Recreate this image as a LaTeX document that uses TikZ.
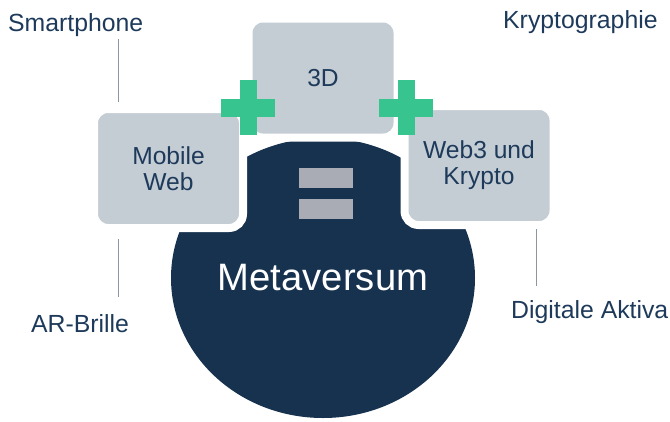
\documentclass[tikz,border=0pt]{standalone}
\usepackage{fontspec}
\setmainfont{Liberation Sans}
\usetikzlibrary{positioning}
\definecolor{navy}{RGB}{22, 50, 79}
\definecolor{navytext}{RGB}{30, 58, 90}
\definecolor{boxgray}{RGB}{196, 204, 212}
\definecolor{plusgreen}{RGB}{56, 196, 143}
\definecolor{eqgray}{RGB}{169, 172, 180}
\definecolor{leadergray}{RGB}{138, 150, 163}

\tikzset{
    tech/.style={fill=boxgray, draw=white, line width=8pt, rounded corners=14pt,
        minimum width=149pt, minimum height=119pt, inner sep=0pt, align=center,
        text=navytext, font=\fontsize{24.6}{26}\selectfont},
    label/.style={text=navytext, font=\fontsize{24.8}{28}\selectfont, inner sep=0pt},
    leader/.style={leadergray, line width=1pt}
}

\begin{document}
\begin{tikzpicture}[x=1pt, y=-1pt]
        \useasboundingbox (0,0) rectangle (670,421);

        % Metaversum
        \fill[navy] (323,278) ellipse [x radius=152, y radius=140];
        \fill[eqgray] (299,168) rectangle (353,188);
        \fill[eqgray] (299,199) rectangle (353,219);
        \node[text=white, font=\fontsize{38.2}{40}\selectfont] (meta) at (323,278) {Metaversum};

        % Technology blocks
        \node[tech] (mobile) at (168.5,168.5) {Mobile\\Web};
        \node[tech] (threed) at (323,78) {3D};
        \node[tech] (web3) at (479,165.5) {Web3 und\\Krypto};

        % Plus signs
        \foreach \x in {248, 406} {
            \fill[plusgreen] (\x-8.5,80) rectangle (\x+8.5,135);
            \fill[plusgreen] (\x-27,98.5) rectangle (\x+27,116.5);
        }

        % Devices and assets
        \node[label, anchor=base west] (smartphone) at (8,31) {Smartphone};
        \node[label, anchor=base west] (krypto) at (503,28) {Kryptographie};
        \node[label, anchor=base west] (arbrille) at (31,332) {AR-Brille};
        \node[label, anchor=base west] (aktiva) at (511,318) {Digitale Aktiva};

        % Leader lines
        \coordinate (sp-end) at (118,102);
        \coordinate (ar-end) at (118,239);
        \coordinate (da-end) at (536,229);
        \draw[leader] (smartphone.south -| sp-end) ++(0,3) -- (sp-end);
        \draw[leader] (arbrille.north -| ar-end) ++(0,-17) -- (ar-end);
        \draw[leader] (aktiva.north -| da-end) ++(0,-14) -- (da-end);

    \end{tikzpicture}
\end{document}
